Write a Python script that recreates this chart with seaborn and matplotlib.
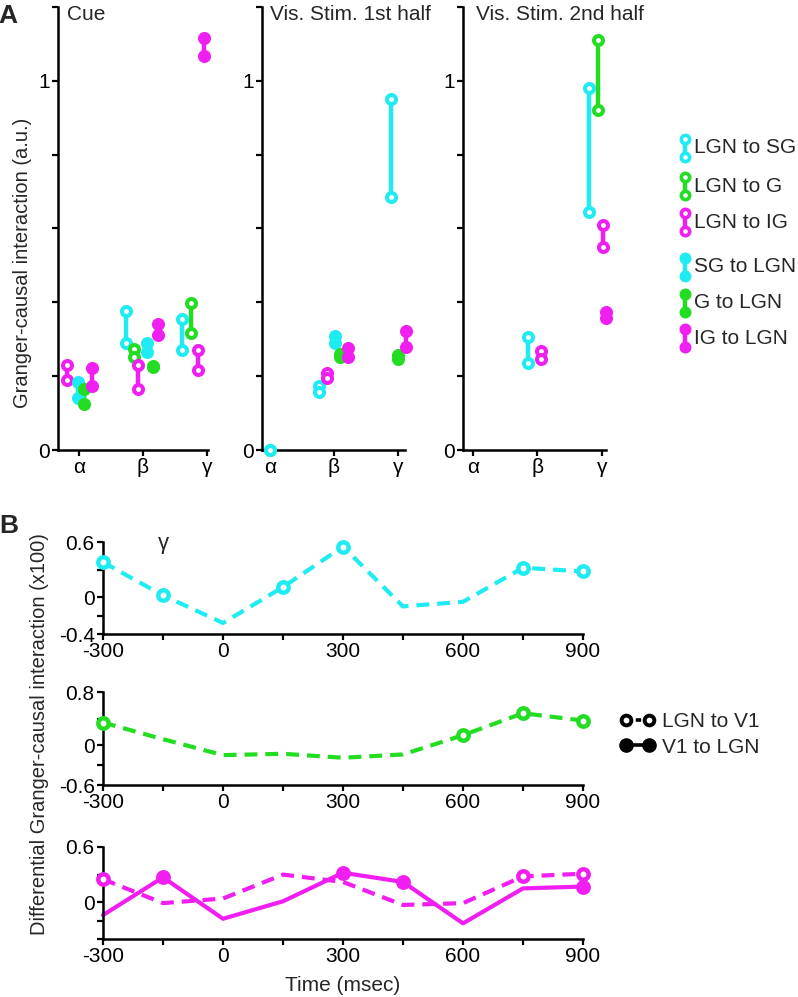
import numpy as np
import pandas as pd
import seaborn as sns
import matplotlib.pyplot as plt
from matplotlib.lines import Line2D

sns.set_theme(style="ticks")
plt.rcParams["font.family"] = ["Liberation Sans", "DejaVu Sans"]

W, H = 798, 997
n = np.nan

bands = ["α", "β", "γ"]
series = ["LGN to SG", "LGN to G", "LGN to IG", "SG to LGN", "G to LGN", "IG to LGN"]
is_open = {"LGN to SG": True, "LGN to G": True, "LGN to IG": True,
           "SG to LGN": False, "G to LGN": False, "IG to LGN": False}
cyan, green, magenta = "#1fecf2", "#22dd22", "#f01ef0"
colors = {"LGN to SG": cyan, "LGN to G": green, "LGN to IG": magenta,
          "SG to LGN": cyan, "G to LGN": green, "IG to LGN": magenta}

panels = ["Cue", "Vis. Stim. 1st half", "Vis. Stim. 2nd half"]

# panel A: top / bottom of each dumbbell for alpha, beta, gamma
cue_hi = {"LGN to SG": [n, 0.377, 0.355], "LGN to G": [n, 0.274, 0.398],
          "LGN to IG": [0.230, 0.230, 0.271], "SG to LGN": [0.184, 0.290, n],
          "G to LGN": [0.165, 0.228, n], "IG to LGN": [0.222, 0.341, 1.117]}
cue_lo = {"LGN to SG": [n, 0.290, 0.271], "LGN to G": [n, 0.252, 0.317],
          "LGN to IG": [0.190, 0.165, 0.217], "SG to LGN": [0.141, 0.266, n],
          "G to LGN": [0.125, 0.225, n], "IG to LGN": [0.173, 0.312, 1.068]}
vis1_hi = {"LGN to SG": [0.0, 0.173, 0.951], "LGN to G": [n, n, n],
           "LGN to IG": [n, 0.209, n], "SG to LGN": [n, 0.309, n],
           "G to LGN": [n, 0.260, 0.257], "IG to LGN": [n, 0.276, 0.322]}
vis1_lo = {"LGN to SG": [0.0, 0.157, 0.686], "LGN to G": [n, n, n],
           "LGN to IG": [n, 0.195, n], "SG to LGN": [n, 0.290, n],
           "G to LGN": [n, 0.252, 0.247], "IG to LGN": [n, 0.252, 0.279]}
vis2_hi = {"LGN to SG": [n, 0.306, 0.98], "LGN to G": [n, n, 1.11],
           "LGN to IG": [n, 0.268, 0.61], "SG to LGN": [n, n, n],
           "G to LGN": [n, n, n], "IG to LGN": [n, n, 0.374]}
vis2_lo = {"LGN to SG": [n, 0.236, 0.645], "LGN to G": [n, n, 0.92],
           "LGN to IG": [n, 0.247, 0.55], "SG to LGN": [n, n, n],
           "G to LGN": [n, n, n], "IG to LGN": [n, n, 0.358]}
# horizontal shift of each dumbbell inside its band
cue_dx = {"LGN to SG": [0, -0.27, -0.39], "LGN to G": [0, -0.14, -0.25],
          "LGN to IG": [-0.19, -0.08, -0.14], "SG to LGN": [-0.02, 0.06, 0],
          "G to LGN": [0.08, 0.16, 0], "IG to LGN": [0.2, 0.23, -0.05]}
vis1_dx = {"LGN to SG": [0, -0.23, -0.11], "LGN to G": [0, 0, 0],
           "LGN to IG": [0, -0.11, 0], "SG to LGN": [0, 0.02, 0],
           "G to LGN": [0, 0.09, 0], "IG to LGN": [0, 0.22, 0.12]}
vis2_dx = {"LGN to SG": [0, -0.14, -0.2], "LGN to G": [0, 0, -0.06],
           "LGN to IG": [0, 0.06, 0.02], "SG to LGN": [0, 0, 0],
           "G to LGN": [0, 0, 0], "IG to LGN": [0, 0, 0.06]}

# panel B
time = [-300, -150, 0, 150, 300, 450, 600, 750, 900]
b_sg = [0.38, 0.02, -0.28, 0.11, 0.55, -0.10, -0.05, 0.32, 0.28]
b_sg_sig = [1, 1, 0, 1, 1, 0, 0, 1, 1]
b_g = [0.34, 0.09, -0.15, -0.13, -0.19, -0.14, 0.15, 0.48, 0.37]
b_g_sig = [1, 0, 0, 0, 0, 0, 1, 1, 1]
b_ig_ff = [0.25, -0.01, 0.04, 0.30, 0.22, -0.03, -0.01, 0.28, 0.31]
b_ig_ff_sig = [1, 0, 0, 0, 0, 0, 0, 1, 1]
b_ig_fb = [-0.14, 0.27, -0.18, 0.01, 0.32, 0.22, -0.23, 0.15, 0.17]
b_ig_fb_sig = [0, 1, 0, 0, 1, 1, 0, 0, 1]

rows = []
for p, hi, lo, dx in zip(panels, [cue_hi, vis1_hi, vis2_hi],
                         [cue_lo, vis1_lo, vis2_lo], [cue_dx, vis1_dx, vis2_dx]):
    for s in series:
        for i, b in enumerate(bands):
            rows.append(dict(panel=p, series=s, band=b, x=i + 1 + dx[s][i],
                             hi=hi[s][i], lo=lo[s][i]))
dfA = pd.DataFrame(rows).dropna()

rows = []
for name, vals, sig, col, d in [("SG", b_sg, b_sg_sig, cyan, "LGN to V1"),
                                ("G", b_g, b_g_sig, green, "LGN to V1"),
                                ("IG", b_ig_ff, b_ig_ff_sig, magenta, "LGN to V1"),
                                ("IG", b_ig_fb, b_ig_fb_sig, magenta, "V1 to LGN")]:
    for t, v, sg in zip(time, vals, sig):
        rows.append(dict(layer=name, dir=d, time=t, value=v, sig=bool(sg), color=col))
dfB = pd.DataFrame(rows)


def px(x, y, w, h):
    return [x / W, 1 - (y + h) / H, w / W, h / H]


def style_ax(ax):
    sns.despine(ax=ax)
    for sp in ["left", "bottom"]:
        ax.spines[sp].set_linewidth(1.8)
        ax.spines[sp].set_color("black")
    ax.tick_params(direction="out", length=4, width=1.6, labelsize=15,
                   colors="black", pad=2)
    ax.set_xlabel("")
    ax.set_ylabel("")
    ax.set_facecolor("white")
    ax.grid(False)


fig = plt.figure(figsize=(W / 100, H / 100), dpi=100)

# ---------- panel A ----------
boxes = [px(58, 7, 150, 443), px(262, 7, 143, 443), px(463, 7, 143, 443)]
xlims = [(0.67, 3.02), (0.875, 3.11), (0.85, 3.06)]
title_x = [67, 270, 476]
ms_a = 42
for p, box, xl, tx in zip(panels, boxes, xlims, title_x):
    ax = fig.add_axes(box)
    sub = dfA[dfA.panel == p]
    for s in series:
        d = sub[sub.series == s]
        if d.empty:
            continue
        c = colors[s]
        ax.vlines(d.x, d.lo, d.hi, color=c, lw=3.2, zorder=2, clip_on=False)
        pts = pd.concat([d[["x", "hi"]].rename(columns={"hi": "v"}),
                         d[["x", "lo"]].rename(columns={"lo": "v"})])
        sns.scatterplot(data=pts, x="x", y="v", ax=ax, s=ms_a, color=c,
                        facecolor="white" if is_open[s] else c, edgecolor=c,
                        linewidth=2.9, zorder=3, clip_on=False, legend=False)
    ax.set_xlim(*xl)
    ax.set_ylim(0, 1.2)
    ax.set_yticks(np.arange(0, 1.21, 0.2))
    ax.set_yticklabels(["0", "", "", "", "", "1", ""])
    ax.set_xticks([1, 2, 3])
    ax.set_xticklabels(bands)
    style_ax(ax)
    fig.text(tx / W, 1 - 14 / H, p, fontsize=15, va="center", ha="left")

fig.text(23 / W, 1 - 263 / H, "Granger-causal interaction (a.u.)", rotation=90,
         fontsize=14.5, ha="center", va="center")
fig.text(8 / W, 1 - 16 / H, "A", fontsize=19, fontweight="bold", ha="center", va="center")

# legend for panel A
lg = fig.add_axes(px(660, 120, 138, 240))
lg.set_xlim(660, 798)
lg.set_ylim(360, 120)
lg.axis("off")
leg_y = [148, 186, 222, 267, 303, 338]
for s, yy in zip(series, leg_y):
    c = colors[s]
    lg.vlines(685, yy - 9, yy + 9, color=c, lw=3.2)
    lg.scatter([685, 685], [yy - 9, yy + 9], s=36, color=c,
               facecolor="white" if is_open[s] else c, edgecolor=c, linewidth=2.6, zorder=3)
    lg.text(694, yy, s, fontsize=15, va="center", ha="left")

# ---------- panel B ----------
b_boxes = [px(103, 542, 480, 92), px(103, 692, 480, 93), px(103, 847, 480, 92)]
b_ylims = [(-0.4, 0.6), (-0.6, 0.8), (-0.4, 0.6)]
b_yticks = [[-0.4, -0.2, 0, 0.3, 0.6], [-0.6, -0.3, 0, 0.4, 0.8], [-0.4, -0.2, 0, 0.3, 0.6]]
b_ylabels = [["-0.4", "", "0", "", "0.6"], ["-0.6", "", "0", "", "0.8"], ["", "", "0", "", "0.6"]]
dash_map = {"LGN to V1": (3.1, 1.9), "V1 to LGN": ""}
for layer, box, yl, yt, ytl in zip(["SG", "G", "IG"], b_boxes, b_ylims, b_yticks, b_ylabels):
    ax = fig.add_axes(box)
    d = dfB[dfB.layer == layer]
    c = d.color.iloc[0]
    sns.lineplot(data=d, x="time", y="value", style="dir", dashes=dash_map,
                 color=c, lw=3, ax=ax, legend=False, estimator=None, clip_on=False)
    for direction, dd in d[d.sig].groupby("dir"):
        sns.scatterplot(data=dd, x="time", y="value", ax=ax, s=56, color=c,
                        facecolor="white" if direction == "LGN to V1" else c,
                        edgecolor=c, linewidth=3.2, zorder=4, clip_on=False, legend=False)
    ax.set_xlim(-300, 900)
    ax.set_ylim(*yl)
    ax.set_xticks(np.arange(-300, 901, 150))
    ax.set_xticklabels(["-300", "", "0", "", "300", "", "600", "", "900"])
    ax.set_yticks(yt)
    ax.set_yticklabels(ytl)
    style_ax(ax)

fig.text(163 / W, 1 - 543 / H, "γ", fontsize=16, ha="center", va="center")
fig.text(343 / W, 1 - 985 / H, "Time (msec)", fontsize=15, ha="center", va="center")
fig.text(40 / W, 1 - 734 / H, "Differential Granger-causal interaction (x100)",
         rotation=90, fontsize=14.5, ha="center", va="center")
fig.text(9 / W, 1 - 526 / H, "B", fontsize=19, fontweight="bold", ha="center", va="center")

handles = [Line2D([], [], color="black", ls=(0, (1.5, 1.2)), lw=2.6, marker="o", ms=7,
                  mfc="white", mec="black", mew=2.8),
           Line2D([], [], color="black", ls="-", lw=2.6, marker="o", ms=9.5,
                  mfc="black", mec="black")]
fig.legend(handles, ["LGN to V1", "V1 to LGN"], loc="center left",
           bbox_to_anchor=(620 / W, 1 - 734.5 / H), frameon=False, fontsize=15,
           numpoints=2, handlelength=1.7, handletextpad=0.3, labelspacing=0.3,
           borderpad=0, borderaxespad=0)

fig.savefig("out.png", dpi=100, facecolor="white")
